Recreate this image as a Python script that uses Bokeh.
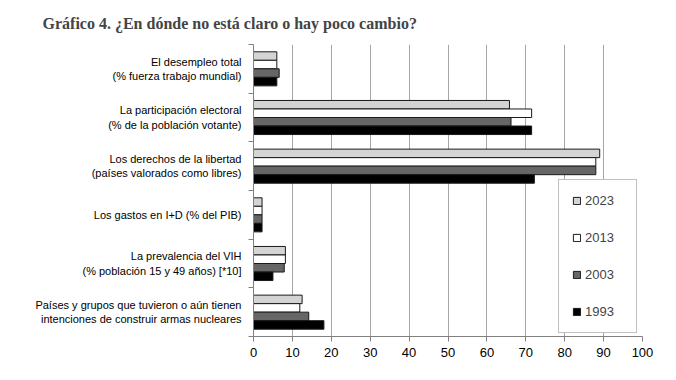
import numpy as np
from bokeh.plotting import figure
from bokeh.models import Range1d, FixedTicker, Legend, LegendItem
from bokeh.embed import file_html
from bokeh.resources import INLINE

categories = [
    "El desempleo total\n(% fuerza trabajo mundial)",
    "La participación electoral\n(% de la población votante)",
    "Los derechos de la libertad\n(países valorados como libres)",
    "Los gastos en I+D (% del PIB)",
    "La prevalencia del VIH\n(% población 15 y 49 años) [*10]",
    "Países y grupos que tuvieron o aún tienen\nintenciones de construir armas nucleares",
]
series_names = ["2023", "2013", "2003", "1993"]
v2023 = [6.0, 65.8, 89.0, 2.2, 8.2, 12.5]
v2013 = [6.0, 71.5, 88.0, 2.2, 8.2, 11.9]
v2003 = [6.6, 66.2, 88.0, 2.2, 7.9, 14.2]
v1993 = [6.0, 71.5, 72.2, 2.2, 5.0, 18.1]
x_ticks = [0, 10, 20, 30, 40, 50, 60, 70, 80, 90, 100]

series_values = [v2023, v2013, v2003, v1993]
colors = ["#d4d4d4", "#ffffff", "#666666", "#000000"]

LABEL_FONT = "Liberation Sans"
TICK_FONT = "Liberation Sans"

n = len(categories)
p = figure(width=676, height=380, output_backend="svg", toolbar_location=None,
           x_range=Range1d(0, 100), y_range=Range1d(n, 0),
           min_border_left=253, min_border_right=34, min_border_top=44,
           min_border_bottom=44)
p.outline_line_color = None
p.background_fill_color = "white"

p.title.text = "Gráfico 4. ¿En dónde no está claro o hay poco cambio?"
p.title.text_font = "Liberation Serif"
p.title.text_font_style = "bold"
p.title.text_font_size = "16px"
p.title.align = "left"
p.title.offset = -211
p.title.standoff = 25

bar_h = 0.175
idx = np.arange(n)
renderers = []
for j, (name, vals, col) in enumerate(zip(series_names, series_values, colors)):
    y = idx + 0.5 + (j - 1.5) * bar_h
    r = p.hbar(y=y, left=0, right=vals, height=bar_h, fill_color=col,
               line_color="#1a1a1a", line_width=1)
    renderers.append(r)

# axes
p.xaxis.ticker = FixedTicker(ticks=x_ticks)
p.xaxis.axis_line_color = "#808080"
p.xaxis.major_tick_line_color = "#808080"
p.xaxis.major_tick_out = 5
p.xaxis.major_tick_in = 0
p.xaxis.minor_tick_line_color = None
p.xaxis.major_label_text_font = TICK_FONT
p.xaxis.major_label_text_font_size = "13px"
p.xaxis.major_label_text_color = "black"
p.xaxis.major_label_standoff = 6

centers = [i + 0.5 for i in range(n)]
p.yaxis.ticker = FixedTicker(ticks=centers, minor_ticks=list(range(n + 1)))
p.yaxis.major_label_overrides = {c: cat for c, cat in zip(centers, categories)}
p.yaxis.axis_line_color = "#808080"
p.yaxis.major_tick_line_color = None
p.yaxis.major_tick_out = 0
p.yaxis.major_tick_in = 0
p.yaxis.minor_tick_line_color = "#808080"
p.yaxis.minor_tick_out = 5
p.yaxis.minor_tick_in = 0
p.yaxis.major_label_standoff = 7
p.yaxis.major_label_text_font = LABEL_FONT
p.yaxis.major_label_text_font_size = "11px"
p.yaxis.major_label_text_line_height = 1.18
p.yaxis.major_label_text_color = "black"

p.xgrid.ticker = FixedTicker(ticks=x_ticks[1:])
p.xgrid.grid_line_color = "#a6a6a6"
p.ygrid.grid_line_color = None

legend = Legend(items=[LegendItem(label=nm, renderers=[r]) for nm, r in zip(series_names, renderers)],
                location=(305, 3), padding=13, spacing=22,
                glyph_width=9, glyph_height=9, label_height=9, label_width=38,
                label_standoff=4, label_text_font=TICK_FONT,
                label_text_font_size="13px", border_line_color="#808080",
                background_fill_color="white", background_fill_alpha=1.0)
p.add_layout(legend)

open("out.html", "w").write(file_html(p, INLINE))
